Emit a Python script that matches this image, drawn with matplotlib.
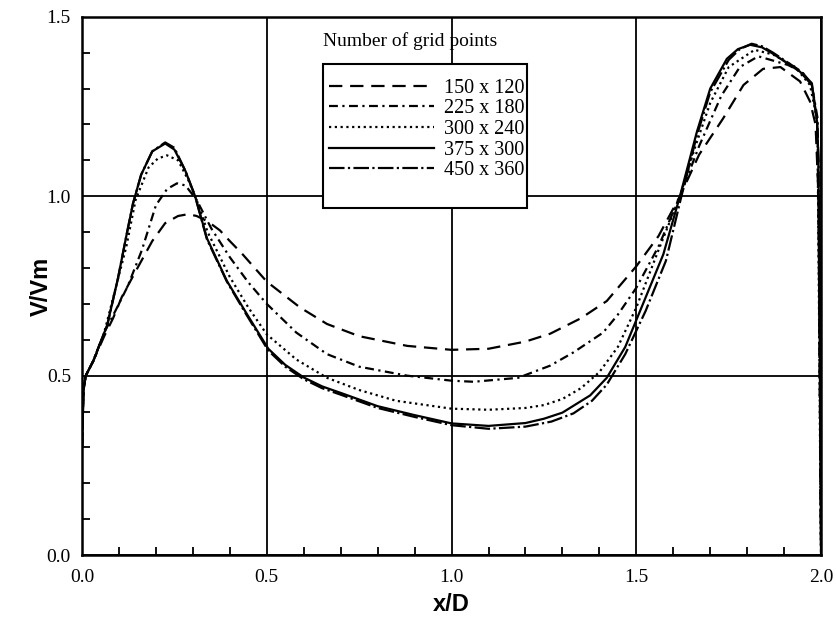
import numpy as np
import matplotlib.pyplot as plt
from matplotlib.patches import Rectangle

# grid 150 x 120
x_150 = [0, 0.004, 0.01, 0.03, 0.06, 0.084, 0.108, 0.15, 0.19, 0.225, 0.26, 0.287, 0.31,
         0.34, 0.373, 0.4, 0.433, 0.5, 0.59, 0.663, 0.75, 0.88, 1.0, 1.1, 1.2, 1.267, 1.35,
         1.42, 1.5, 1.56, 1.618, 1.67, 1.735, 1.79, 1.843, 1.89, 1.943, 1.97, 1.985, 1.993,
         1.997, 2.0]
v_150 = [0.30, 0.46, 0.50, 0.54, 0.61, 0.66, 0.72, 0.80, 0.875, 0.925, 0.945, 0.95, 0.945,
         0.93, 0.905, 0.875, 0.84, 0.762, 0.69, 0.644, 0.61, 0.583, 0.572, 0.575, 0.595, 0.617, 0.66,
         0.708, 0.805, 0.889, 1.0, 1.116, 1.217, 1.31, 1.355, 1.36, 1.32, 1.264, 1.20, 1.0,
         0.4, 0.0]

# grid 225 x 180
x_225 = [0, 0.004, 0.01, 0.03, 0.06, 0.09, 0.124, 0.162, 0.2, 0.23, 0.257, 0.28, 0.31, 0.35,
         0.4, 0.45, 0.5, 0.58, 0.663, 0.75, 0.88, 1.0, 1.06, 1.18, 1.267, 1.33, 1.41, 1.45,
         1.5, 1.56, 1.618, 1.67, 1.73, 1.78, 1.83, 1.91, 1.95, 1.975, 1.99, 1.995, 1.999, 2.0]
v_225 = [0.30, 0.46, 0.50, 0.54, 0.62, 0.68, 0.75, 0.85, 0.975, 1.02, 1.036, 1.03, 0.99, 0.91,
         0.83, 0.76, 0.70, 0.62, 0.56, 0.525, 0.50, 0.486, 0.483, 0.494, 0.528, 0.565, 0.62, 0.67,
         0.745, 0.86, 1.0, 1.14, 1.28, 1.36, 1.39, 1.366, 1.345, 1.31, 1.22, 0.7, 0.1, 0.0]

# grid 300 x 240
x_300 = [0, 0.004, 0.01, 0.03, 0.06, 0.09, 0.12, 0.145, 0.18, 0.205, 0.23, 0.26, 0.29, 0.31,
         0.34, 0.4, 0.45, 0.5, 0.58, 0.663, 0.75, 0.85, 1.0, 1.1, 1.2, 1.25, 1.3, 1.35, 1.4,
         1.45, 1.5, 1.56, 1.618, 1.66, 1.7, 1.75, 1.82, 1.87, 1.93, 1.97, 1.99, 1.995, 1.999, 2.0]
v_300 = [0.30, 0.46, 0.50, 0.54, 0.62, 0.74, 0.86, 0.99, 1.08, 1.105, 1.114, 1.10, 1.04, 0.99,
         0.90, 0.775, 0.69, 0.615, 0.545, 0.494, 0.46, 0.43, 0.408, 0.405, 0.41, 0.418, 0.435, 0.465,
         0.51, 0.58, 0.69, 0.85, 1.0, 1.14, 1.26, 1.36, 1.408, 1.395, 1.36, 1.31, 1.21, 0.6, 0.05, 0.0]

# grid 375 x 300
x_375 = [0, 0.004, 0.01, 0.03, 0.068, 0.097, 0.12, 0.138, 0.16, 0.19, 0.225, 0.25, 0.28, 0.306,
         0.338, 0.392, 0.446, 0.504, 0.55, 0.6, 0.65, 0.7, 0.8, 0.9, 1.0, 1.1, 1.2, 1.25, 1.3,
         1.375, 1.42, 1.47, 1.518, 1.573, 1.618, 1.664, 1.7, 1.745, 1.775, 1.808, 1.84, 1.87,
         1.943, 1.975, 1.989, 1.993, 1.997, 2.0]
v_375 = [0.30, 0.46, 0.50, 0.54, 0.64, 0.77, 0.89, 0.98, 1.06, 1.125, 1.147, 1.13, 1.07, 1.0,
         0.883, 0.764, 0.672, 0.575, 0.53, 0.495, 0.47, 0.452, 0.415, 0.39, 0.367, 0.36, 0.368, 0.38,
         0.397, 0.445, 0.494, 0.58, 0.70, 0.838, 1.0, 1.18, 1.30, 1.383, 1.41, 1.422, 1.415, 1.397,
         1.347, 1.31, 1.208, 1.1, 0.5, 0.0]

# grid 450 x 360
x_450 = [0, 0.004, 0.01, 0.03, 0.068, 0.097, 0.12, 0.138, 0.16, 0.19, 0.225, 0.25, 0.28, 0.306,
         0.338, 0.392, 0.446, 0.504, 0.55, 0.6, 0.65, 0.7, 0.8, 0.9, 1.0, 1.1, 1.2, 1.27, 1.33,
         1.38, 1.42, 1.47, 1.525, 1.58, 1.622, 1.664, 1.7, 1.75, 1.78, 1.812, 1.84, 1.87,
         1.943, 1.975, 1.989, 1.993, 1.997, 2.0]
v_450 = [0.30, 0.46, 0.50, 0.54, 0.64, 0.77, 0.89, 0.98, 1.06, 1.125, 1.15, 1.135, 1.07, 1.0,
         0.88, 0.762, 0.668, 0.57, 0.525, 0.49, 0.465, 0.447, 0.41, 0.385, 0.362, 0.352, 0.358, 0.372,
         0.395, 0.43, 0.475, 0.56, 0.68, 0.82, 1.0, 1.17, 1.29, 1.38, 1.41, 1.425, 1.418, 1.40,
         1.35, 1.315, 1.21, 1.1, 0.5, 0.0]

labels = ['150 x 120', '225 x 180', '300 x 240', '375 x 300', '450 x 360']
series = [(x_150, v_150), (x_225, v_225), (x_300, v_300), (x_375, v_375), (x_450, v_450)]
styles = [(0, (6, 3.5)), (0, (4, 2, 1, 2)), (0, (1, 1.6)), '-', (0, (7, 1.5, 1, 1.5))]

plt.rcParams['font.family'] = 'Liberation Serif'

fig = plt.figure(figsize=(8.37, 6.23), dpi=100)
ax = fig.add_axes([0.098, 0.109, 0.883, 0.864])
ax.set_axisbelow(True)

for (xs, vs), lab, ls in zip(series, labels, styles):
    ax.plot(xs, vs, color='black', linestyle=ls, linewidth=1.6, label=lab, zorder=3)

ax.set_xlim(0, 2.0)
ax.set_ylim(0, 1.5)
ax.set_xticks([0, 0.5, 1.0, 1.5, 2.0])
ax.set_yticks([0, 0.5, 1.0, 1.5])
ax.set_xticklabels(['0.0', '0.5', '1.0', '1.5', '2.0'])
ax.set_yticklabels(['0.0', '0.5', '1.0', '1.5'])
ax.set_xticks(np.arange(0, 2.01, 0.1), minor=True)
ax.set_yticks(np.arange(0, 1.51, 0.1), minor=True)
ax.tick_params(which='both', direction='in', top=False, right=False, labelsize=14)
ax.tick_params(axis='x', which='major', length=0, pad=10)
ax.tick_params(axis='y', which='major', length=0, pad=8)
ax.tick_params(which='minor', length=6, width=1.3)
ax.grid(True, which='major', color='black', linewidth=1.3)
for s in ax.spines.values():
    s.set_linewidth(1.8)
    s.set_zorder(7)

ax.set_xlabel('x/D', fontfamily='Liberation Sans', fontweight='bold', fontsize=17, labelpad=5)
ax.set_ylabel('V/Vm', fontfamily='Liberation Sans', fontweight='bold', fontsize=17)
ax.yaxis.set_label_coords(-0.04, 0.5)

# legend box
box = Rectangle((0.326, 0.645), 0.276, 0.268, transform=ax.transAxes, facecolor='white',
                edgecolor='black', linewidth=1.5, zorder=4)
ax.add_patch(box)
ax.text(0.4445, 0.955, 'Number of grid points', transform=ax.transAxes, ha='center',
        va='center', fontsize=14, zorder=5)
leg = ax.legend(loc='upper left', bbox_to_anchor=(0.319, 0.906), borderaxespad=0,
                frameon=False, fontsize=14.5, handlelength=5.2, handletextpad=0.5,
                labelspacing=0.08, borderpad=0.55)
leg.set_zorder(6)

fig.savefig('out.png', dpi=100)
